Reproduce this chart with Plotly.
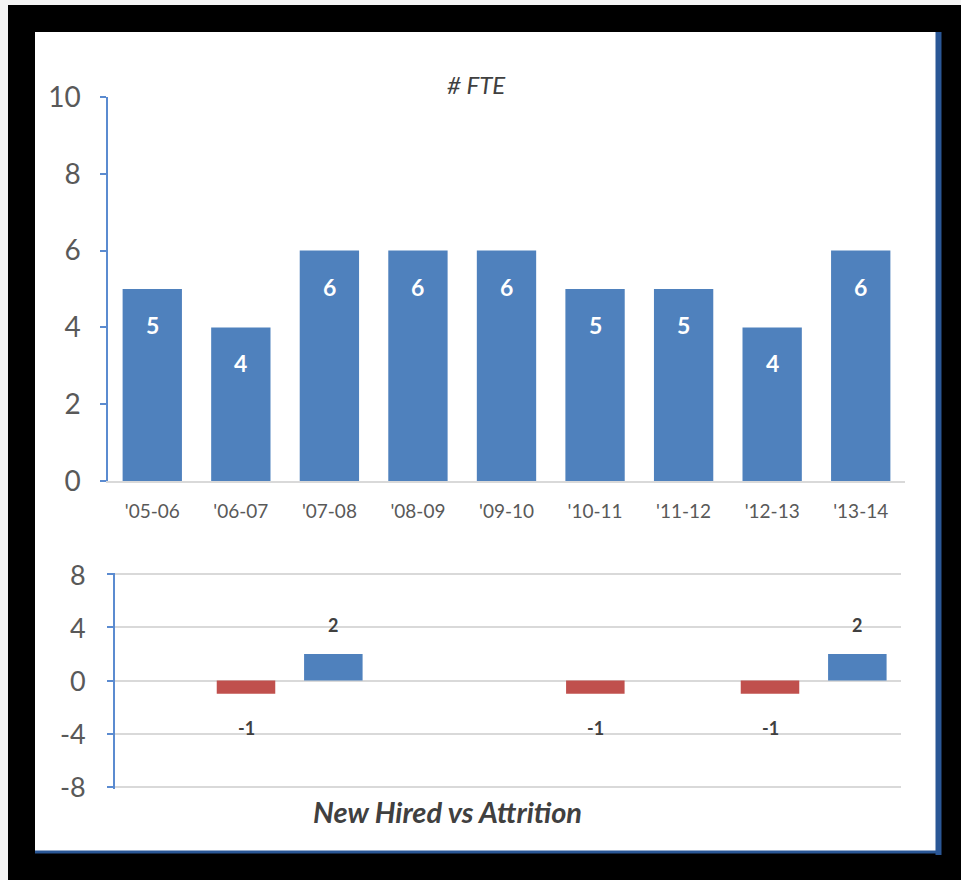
import plotly.graph_objects as go

categories = ["'05-06", "'06-07", "'07-08", "'08-09", "'09-10", "'10-11", "'11-12", "'12-13", "'13-14"]
fte = [5, 4, 6, 6, 6, 5, 5, 4, 6]
new_hired = [None, None, 2, None, None, None, None, None, 2]
attrition = [None, -1, None, None, None, -1, None, -1, None]
top_ticks = [0, 2, 4, 6, 8, 10]
bottom_ticks = [-8, -4, 0, 4, 8]

W, H = 961, 880
BLUE = "#4F81BD"
RED = "#C0504D"
AXIS_BLUE = "#5B8BD0"
GRID = "#D9D9D9"
TXT = "#595959"
DARK = "#404040"
FONT = "Lato"

def px(x):
    return x / W

def py(y):
    return 1 - y / H

fig = go.Figure()

fig.add_trace(go.Bar(x=categories, y=fte, marker_color=BLUE, xaxis="x", yaxis="y",
                     showlegend=False, name="# FTE"))
fig.add_trace(go.Bar(x=categories, y=new_hired, marker_color=BLUE, xaxis="x2", yaxis="y2",
                     name="New Hired", showlegend=False))
fig.add_trace(go.Bar(x=categories, y=attrition, marker_color=RED, xaxis="x2", yaxis="y2",
                     name="Attrition", showlegend=False))

annotations = []
for c, v in zip(categories, fte):
    annotations.append(dict(x=c, y=v, xref="x", yref="y", text="<b>%d</b>" % v, showarrow=False,
                            yshift=-36, yanchor="middle",
                            font=dict(family=FONT, size=23, color="white")))
for c, v in zip(categories, new_hired):
    if v is not None:
        annotations.append(dict(x=c, y=v, xref="x2", yref="y2", text="<b>%d</b>" % v, showarrow=False,
                                yshift=29, yanchor="middle",
                                font=dict(family=FONT, size=18, color=DARK)))
for c, v in zip(categories, attrition):
    if v is not None:
        annotations.append(dict(x=c, y=v, xref="x2", yref="y2", text="<b>%d</b>" % v, showarrow=False,
                                yshift=-34, yanchor="middle",
                                font=dict(family=FONT, size=18, color=DARK)))

# tick labels of the lower value axis (ASCII hyphen as in the original)
for t in bottom_ticks:
    annotations.append(dict(x=px(88), y=t, xref="paper", yref="y2", text=str(t), showarrow=False,
                            xanchor="right", yanchor="middle",
                            font=dict(family=FONT, size=27, color=TXT)))

annotations.append(dict(x=px(476), y=py(85), xref="paper", yref="paper", text="<i># FTE</i>",
                        showarrow=False, xanchor="center", yanchor="middle",
                        font=dict(family=FONT, size=24, color=DARK)))
annotations.append(dict(x=px(447), y=py(811), xref="paper", yref="paper",
                        text="<b><i>New Hired vs Attrition</i></b>",
                        showarrow=False, xanchor="center", yanchor="middle",
                        font=dict(family=FONT, size=29, color=DARK)))

shapes = [
    dict(type="rect", xref="paper", yref="paper", x0=0, x1=px(8), y0=0, y1=1,
         fillcolor="#F4F4F4", line=dict(width=0), layer="below"),
    dict(type="rect", xref="paper", yref="paper", x0=0, x1=1, y0=py(5), y1=1,
         fillcolor="#F4F4F4", line=dict(width=0), layer="below"),
    dict(type="rect", xref="paper", yref="paper", x0=px(35), x1=px(938), y0=py(853), y1=py(32),
         fillcolor="white", line=dict(width=0), layer="below"),
    dict(type="line", xref="paper", yref="paper", x0=px(938.5), x1=px(938.5), y0=py(855), y1=py(32),
         line=dict(color="#2A5796", width=6), layer="below"),
    dict(type="line", xref="paper", yref="paper", x0=px(35), x1=px(941), y0=py(852), y1=py(852),
         line=dict(color="#2A5796", width=3), layer="below"),
]

fig.update_layout(
    template="none",
    width=W, height=H,
    margin=dict(l=0, r=0, t=0, b=0, pad=0, autoexpand=False),
    paper_bgcolor="black",
    plot_bgcolor="rgba(0,0,0,0)",
    barmode="relative",
    bargap=0.33,
    showlegend=False,
    font=dict(family=FONT, color=TXT),
    annotations=annotations,
    shapes=shapes,
    xaxis=dict(domain=[px(108), px(905)], anchor="y", showline=True, linecolor=GRID, linewidth=1.5,
               ticks="", tickfont=dict(family=FONT, size=19, color=TXT), ticklabelstandoff=12,
               showgrid=False, zeroline=False, automargin=False, fixedrange=True),
    yaxis=dict(domain=[py(481), py(97)], anchor="x", range=[0, 10], tickvals=top_ticks,
               showline=True,
               linecolor=AXIS_BLUE, linewidth=1.5, ticks="outside", tickcolor=AXIS_BLUE, ticklen=6,
               tickwidth=1.5, showgrid=False, zeroline=False, automargin=False, fixedrange=True,
               tickfont=dict(family=FONT, size=28, color=TXT), ticklabelstandoff=14),
    xaxis2=dict(domain=[px(115), px(901)], anchor="y2", showline=False, showticklabels=False,
                ticks="", showgrid=False, zeroline=False, automargin=False, fixedrange=True),
    yaxis2=dict(domain=[py(788.5), py(572.5)], anchor="x2", range=[-8.15, 8.15], tickvals=bottom_ticks,
                showticklabels=False,
                showline=True, linecolor=AXIS_BLUE, linewidth=1.5, ticks="outside",
                tickcolor=AXIS_BLUE, ticklen=6, tickwidth=1.5, showgrid=True, gridcolor=GRID,
                gridwidth=1.5, zeroline=True, zerolinecolor=GRID, zerolinewidth=1.5,
                automargin=False, fixedrange=True),
)

fig.write_html("out.html")
